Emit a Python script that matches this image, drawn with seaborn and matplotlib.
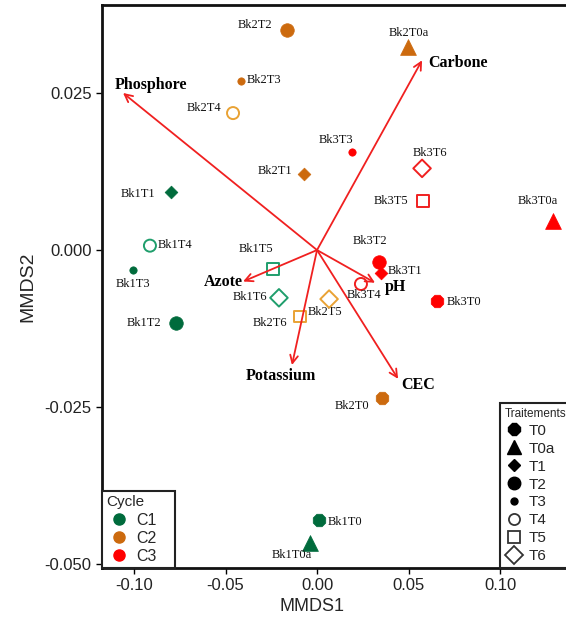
import matplotlib
matplotlib.use("Agg")
import matplotlib.pyplot as plt
from matplotlib.lines import Line2D
import seaborn as sns
import pandas as pd

# sample scores (MMDS1, MMDS2)
names = ["Bk1T0", "Bk1T0a", "Bk1T1", "Bk1T2", "Bk1T3", "Bk1T4", "Bk1T5", "Bk1T6",
         "Bk2T0", "Bk2T0a", "Bk2T1", "Bk2T2", "Bk2T3", "Bk2T4", "Bk2T5", "Bk2T6",
         "Bk3T0", "Bk3T0a", "Bk3T1", "Bk3T2", "Bk3T3", "Bk3T4", "Bk3T5", "Bk3T6"]
cycles = ["C1"] * 8 + ["C2"] * 8 + ["C3"] * 8
treats = ["T0", "T0a", "T1", "T2", "T3", "T4", "T5", "T6"] * 3
mmds1 = [0.001, -0.0038, -0.0798, -0.077, -0.1005, -0.0913, -0.024, -0.0208,
         0.0355, 0.0497, -0.0071, -0.0164, -0.0415, -0.0459, -0.0093, 0.0066,
         0.0656, 0.129, 0.035, 0.0339, 0.0191, 0.024, 0.058, 0.0574]
mmds2 = [-0.043, -0.0467, 0.0093, -0.0116, -0.0031, 0.0007, -0.003, -0.0076,
         -0.0236, 0.0323, 0.0121, 0.035, 0.0269, 0.0218, -0.0106, -0.0078,
         -0.0081, 0.0046, -0.0036, -0.0019, 0.0156, -0.0054, 0.0078, 0.013]

# soil variables (arrow tips)
var_names = ["Phosphore", "Carbone", "Azote", "pH", "Potassium", "CEC"]
var_x = [-0.106, 0.0574, -0.0404, 0.0317, -0.0137, 0.0443]
var_y = [0.025, 0.0302, -0.005, -0.0052, -0.0183, -0.0205]

df = pd.DataFrame({"name": names, "cycle": cycles, "treat": treats,
                   "MMDS1": mmds1, "MMDS2": mmds2})

fill_col = {"C1": "#006b3c", "C2": "#cc6a0e", "C3": "#ff0000"}
open_col = {"C1": "#1f9e6c", "C2": "#e9a234", "C3": "#f02020"}
mk = {"T0": "8", "T0a": "^", "T1": "D", "T2": "o", "T3": "o", "T4": "o", "T5": "s", "T6": "D"}
sz = {"T0": 95, "T0a": 130, "T1": 42, "T2": 95, "T3": 28, "T4": 75, "T5": 70, "T6": 80}
is_open = {"T4", "T5", "T6"}

# label offsets in pixels (dx, dy, ha)
lab_off = {
    "Bk1T0": (9, -2, "left"), "Bk1T0a": (-18, -12, "center"), "Bk1T1": (-16, -2, "right"),
    "Bk1T2": (-15, 0, "right"), "Bk1T3": (0, -14, "center"), "Bk1T4": (8, 1, "left"),
    "Bk1T5": (0, 20, "right"), "Bk1T6": (-12, 1, "right"),
    "Bk2T0": (-13, -8, "right"), "Bk2T0a": (1, 14, "center"), "Bk2T1": (-12, 3, "right"),
    "Bk2T2": (-15, 5, "right"), "Bk2T3": (6, 1, "left"), "Bk2T4": (-12, 5, "right"),
    "Bk2T5": (8, 5, "left"), "Bk2T6": (-42, -24, "right"),
    "Bk3T0": (10, -1, "left"), "Bk3T0a": (-15, 20, "center"), "Bk3T1": (7, 2, "left"),
    "Bk3T2": (-9, 21, "center"), "Bk3T3": (-16, 12, "center"), "Bk3T4": (3, -11, "center"),
    "Bk3T5": (-15, 0, "right"), "Bk3T6": (8, 15, "center"),
}
var_off = {
    "Phosphore": (-8, 8, "left"), "Carbone": (6, -3, "left"), "Azote": (0, -1, "right"),
    "pH": (10, -4, "left"), "Potassium": (-11, -11, "center"), "CEC": (3, -6, "left"),
}

sns.set_style("ticks")
plt.rcParams["font.family"] = ["Liberation Sans", "DejaVu Sans"]

fig = plt.figure(figsize=(5.66, 6.22), dpi=100)
xmin, xmax = -0.1175, 0.14
ymin, ymax = -0.0506, 0.039
ax = fig.add_axes([102 / 566, 54 / 622, (xmax - xmin) * 1830 / 566, 563 / 622])

for _, r in df.iterrows():
    t = r["treat"]
    if t in is_open:
        c = open_col[r["cycle"]]
        sns.scatterplot(x=[r["MMDS1"]], y=[r["MMDS2"]], ax=ax, marker=mk[t], s=sz[t],
                        facecolor="none", edgecolor=c, linewidth=1.4, zorder=3)
    else:
        c = fill_col[r["cycle"]]
        sns.scatterplot(x=[r["MMDS1"]], y=[r["MMDS2"]], ax=ax, marker=mk[t], s=sz[t],
                        color=c, edgecolor=c, linewidth=0.5, zorder=3)
    dx, dy, ha = lab_off[r["name"]]
    ax.annotate(r["name"], (r["MMDS1"], r["MMDS2"]), xytext=(dx, dy),
                textcoords="offset pixels", ha=ha, va="center",
                fontsize=9, family="Liberation Serif", color="#111111")

for n, vx, vy in zip(var_names, var_x, var_y):
    ax.annotate("", xy=(vx, vy), xytext=(0, 0),
                arrowprops=dict(arrowstyle="->", color="#f02020", lw=1.3,
                                mutation_scale=14, shrinkA=0, shrinkB=0))
    dx, dy, ha = var_off[n]
    ax.annotate(n, (vx, vy), xytext=(dx, dy), textcoords="offset pixels",
                ha=ha, va="center", fontsize=11.5, fontweight="bold",
                family="Liberation Serif", color="black")

ax.set_xlim(xmin, xmax)
ax.set_ylim(ymin, ymax)
ax.set_xticks([-0.10, -0.05, 0.00, 0.05, 0.10])
ax.set_xticklabels(["-0.10", "-0.05", "0.00", "0.05", "0.10"])
ax.set_yticks([-0.050, -0.025, 0.000, 0.025])
ax.set_yticklabels(["-0.050", "-0.025", "0.000", "0.025"])
ax.tick_params(labelsize=12, length=4, width=1, colors="black", labelcolor="#222222")
ax.set_xlabel("MMDS1", fontsize=13)
ax.set_ylabel("MMDS2", fontsize=14, labelpad=6)
ax.xaxis.set_label_coords((312 - 102) / 471, -30 / 563)
for sp in ax.spines.values():
    sp.set_linewidth(2)
    sp.set_color("#111111")

# Cycle legend
h1 = [Line2D([], [], marker="o", ls="", color=fill_col[c], markersize=8) for c in ["C1", "C2"]]
h1.append(Line2D([], [], marker="o", ls="", color="#ff0000", markersize=8))
leg1 = ax.legend(h1, ["C1", "C2", "C3"], title="Cycle", loc="lower left",
                 bbox_to_anchor=(0, 0, 73 / 471, 0.1), mode="expand",
                 borderaxespad=0, fontsize=11.5,
                 title_fontsize=11, frameon=True, fancybox=False,
                 edgecolor="#222222", framealpha=1, labelspacing=0.2,
                 handletextpad=0.3, handlelength=1.6, borderpad=0.25)
leg1._legend_box.align = "left"
leg1.get_frame().set_linewidth(1.5)
ax.add_artist(leg1)

# Traitements legend
tr = ["T0", "T0a", "T1", "T2", "T3", "T4", "T5", "T6"]
ms = {"T0": 9, "T0a": 10, "T1": 6, "T2": 9, "T3": 5, "T4": 8, "T5": 8, "T6": 9}
h2 = []
for t in tr:
    if t in is_open:
        h2.append(Line2D([], [], marker=mk[t], ls="", markersize=ms[t],
                         markerfacecolor="none", markeredgecolor="#333333", markeredgewidth=1.3))
    else:
        h2.append(Line2D([], [], marker=mk[t], ls="", markersize=ms[t], color="black"))
leg2 = ax.legend(h2, tr, title="Traitements", loc="lower left",
                 bbox_to_anchor=(0.10, ymin), bbox_transform=ax.transData,
                 borderaxespad=0, fontsize=11, title_fontsize=8.5, frameon=True,
                 fancybox=False, edgecolor="#222222", framealpha=1,
                 labelspacing=0.26, handletextpad=0.4, handlelength=1.2, borderpad=0.3)
leg2._legend_box.align = "left"
leg2.get_frame().set_linewidth(1.5)

fig.savefig("out.png", dpi=100)
